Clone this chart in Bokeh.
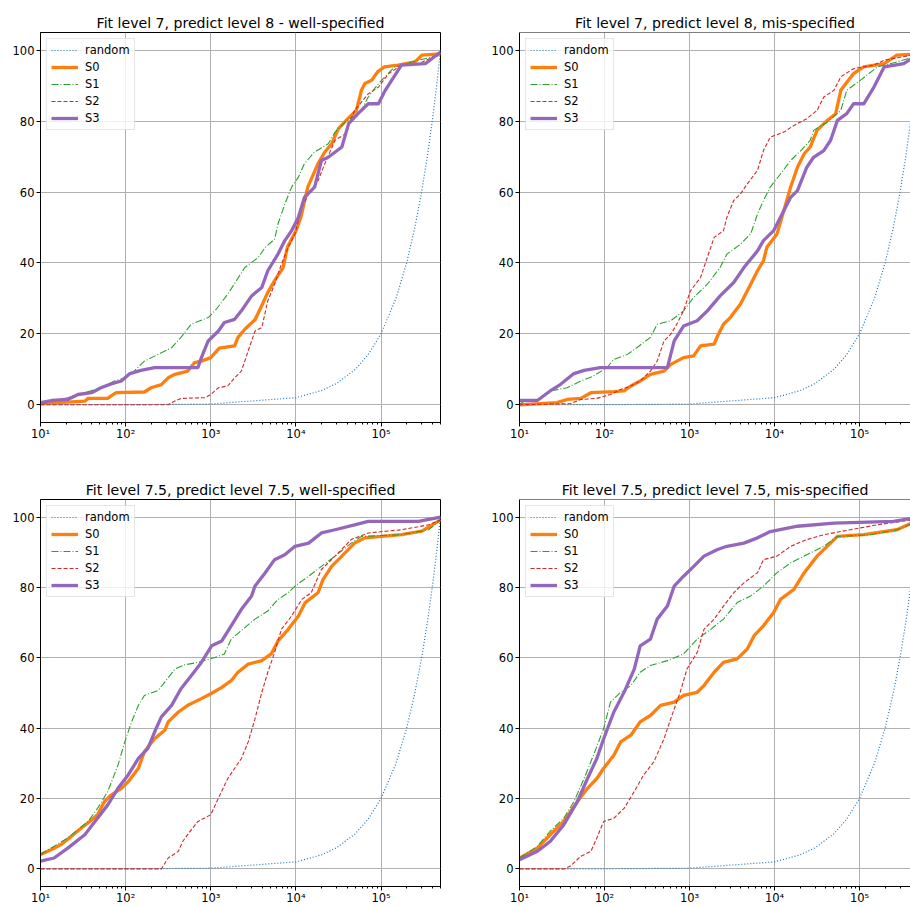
from bokeh.plotting import figure
from bokeh.models import Range1d, FixedTicker, Span, Legend, LegendItem
from bokeh.layouts import column, row
from bokeh.embed import file_html
from bokeh.resources import INLINE

# ---------------- data (x as log10 of the budget, y in percent) ----------------
random_x = [10, 100, 1000, 10000, 20000, 30000, 50000, 70000, 100000, 150000,
            200000, 250000, 300000, 350000, 400000, 450000, 500000]
random_y = [0.002, 0.02, 0.2, 2, 4, 6, 10, 14, 20, 30, 40, 50, 60, 70, 80, 90, 100]

# Fit level 7, predict level 8 - well-specified
tl_s0_lx = [1.0, 1.52, 1.56, 1.79, 1.83, 1.89, 2.22, 2.3, 2.42, 2.5, 2.58, 2.73, 2.81, 2.89, 3.0, 3.1, 3.28, 3.32, 3.4, 3.52, 3.6, 3.67, 3.75, 3.85, 3.9, 4.0, 4.06, 4.14, 4.26, 4.34, 4.42, 4.5, 4.61, 4.71, 4.77, 4.81, 4.89, 4.96, 5.04, 5.2, 5.4, 5.48, 5.7]
tl_s0_y = [0.3, 1.0, 1.8, 1.8, 2.5, 3.4, 3.6, 4.8, 5.7, 7.6, 8.6, 9.5, 11.9, 12.3, 13.3, 16.0, 16.6, 19.0, 21.3, 24.0, 28.0, 31.7, 35.0, 38.7, 44.4, 49.0, 53.0, 61.4, 68.0, 71.3, 73.6, 77.9, 80.7, 83.0, 88.7, 90.6, 91.5, 93.9, 95.3, 95.8, 96.7, 98.6, 99.0]
tl_s1_lx = [1.0, 1.13, 1.32, 1.52, 1.71, 1.87, 1.99, 2.1, 2.22, 2.38, 2.54, 2.65, 2.77, 2.97, 3.05, 3.2, 3.4, 3.56, 3.64, 3.75, 3.79, 3.87, 3.95, 4.03, 4.1, 4.22, 4.38, 4.46, 4.58, 4.77, 4.85, 4.97, 5.16, 5.44, 5.7]
tl_s1_y = [0, 1.0, 2.0, 3.4, 4.8, 6.7, 7.6, 9.5, 12.3, 14.2, 16.1, 19.0, 22.7, 24.6, 26.5, 31.2, 38.7, 41.6, 44.4, 46.7, 51.0, 56.6, 61.4, 64.2, 68.0, 71.3, 73.6, 76.9, 79.7, 83.0, 86.8, 90.6, 95.3, 97.2, 98.6]
tl_s2_lx = [1.0, 2.5, 2.54, 2.65, 2.93, 3.0, 3.09, 3.2, 3.28, 3.36, 3.44, 3.52, 3.6, 3.67, 3.75, 3.83, 3.91, 3.99, 4.07, 4.15, 4.26, 4.34, 4.46, 4.58, 4.69, 4.85, 4.97, 5.09, 5.24, 5.44, 5.7]
tl_s2_y = [0, 0, 0.6, 1.8, 2.0, 2.9, 4.8, 5.3, 7.6, 9.5, 15.2, 20.8, 21.8, 29.3, 34.0, 39.7, 44.4, 48.2, 55.7, 59.5, 63.2, 68.0, 74.6, 76.4, 83.0, 87.7, 89.6, 93.4, 95.8, 96.2, 99.0]
tl_s3_lx = [1.0, 1.13, 1.32, 1.44, 1.6, 1.71, 1.83, 1.95, 2.05, 2.18, 2.34, 2.85, 2.89, 2.97, 3.09, 3.16, 3.28, 3.36, 3.48, 3.6, 3.67, 3.79, 3.87, 3.95, 4.03, 4.1, 4.22, 4.3, 4.38, 4.54, 4.62, 4.73, 4.85, 4.97, 5.05, 5.24, 5.52, 5.7]
tl_s3_y = [0.6, 1.2, 1.5, 2.9, 3.4, 4.8, 5.9, 6.7, 8.8, 9.7, 10.5, 10.5, 13.3, 18.0, 20.8, 23.2, 24.1, 26.5, 30.7, 33.1, 37.8, 42.5, 46.3, 49.1, 52.9, 58.5, 61.4, 68.9, 69.8, 72.7, 79.3, 82.1, 84.9, 84.9, 88.7, 95.8, 96.2, 99.5]

# Fit level 7, predict level 8, mis-specified
tr_s0_lx = [1.0, 1.44, 1.56, 1.72, 1.84, 2.11, 2.23, 2.31, 2.42, 2.54, 2.7, 2.78, 2.93, 3.05, 3.13, 3.29, 3.33, 3.4, 3.48, 3.6, 3.72, 3.8, 3.87, 3.91, 4.03, 4.11, 4.19, 4.27, 4.35, 4.42, 4.5, 4.62, 4.72, 4.78, 4.84, 4.93, 5.05, 5.29, 5.44, 5.7]
tr_s0_y = [0, 0.6, 1.5, 1.8, 3.4, 3.7, 3.9, 5.3, 6.7, 8.6, 9.5, 11.4, 13.3, 13.8, 16.6, 17.1, 19.4, 22.7, 24.6, 28.4, 34.0, 37.8, 40.6, 44.4, 48.2, 54.8, 61.4, 67.0, 70.8, 72.7, 77.4, 80.2, 82.1, 88.7, 90.6, 93.4, 95.3, 96.2, 98.6, 99.0]
tr_s1_lx = [1.0, 1.05, 1.21, 1.36, 1.56, 1.72, 1.87, 2.03, 2.11, 2.27, 2.38, 2.54, 2.62, 2.78, 2.93, 3.05, 3.21, 3.36, 3.44, 3.6, 3.72, 3.8, 3.87, 3.95, 4.07, 4.19, 4.31, 4.42, 4.46, 4.62, 4.78, 4.85, 5.01, 5.21, 5.44, 5.7]
tr_s1_y = [0, 1.0, 1.5, 3.9, 4.8, 6.7, 8.1, 10.5, 12.8, 14.2, 16.1, 19.0, 22.7, 23.7, 26.5, 30.3, 34.0, 38.7, 42.5, 45.3, 48.2, 53.8, 57.6, 61.4, 65.1, 68.9, 71.7, 74.6, 77.4, 79.7, 83.0, 88.7, 91.5, 95.3, 96.7, 98.6]
tr_s2_lx = [1.0, 1.6, 1.72, 1.91, 2.07, 2.19, 2.31, 2.42, 2.54, 2.62, 2.7, 2.78, 2.85, 2.93, 3.01, 3.13, 3.21, 3.29, 3.4, 3.44, 3.52, 3.6, 3.68, 3.8, 3.87, 3.95, 4.11, 4.23, 4.38, 4.5, 4.58, 4.7, 4.78, 4.93, 5.17, 5.29, 5.7]
tr_s2_y = [0, 0.3, 1.5, 1.8, 2.9, 4.3, 5.3, 6.7, 9.5, 12.3, 18.0, 19.9, 22.7, 26.5, 32.1, 35.9, 41.6, 47.2, 49.1, 52.9, 57.6, 59.5, 62.3, 66.1, 71.7, 75.5, 76.9, 78.8, 80.7, 83.0, 86.8, 88.7, 92.5, 94.8, 95.8, 97.2, 99.0]
tr_s3_lx = [1.0, 1.21, 1.36, 1.48, 1.64, 1.76, 1.95, 2.74, 2.82, 2.93, 3.09, 3.21, 3.36, 3.52, 3.64, 3.8, 3.87, 3.99, 4.07, 4.19, 4.27, 4.38, 4.46, 4.58, 4.66, 4.74, 4.85, 4.93, 5.05, 5.17, 5.29, 5.52, 5.7]
tr_s3_y = [1.2, 1.2, 3.9, 5.7, 8.8, 9.7, 10.5, 10.5, 18.0, 22.2, 23.7, 26.5, 30.7, 34.5, 38.7, 43.4, 46.3, 49.1, 52.9, 58.5, 60.4, 67.0, 69.8, 71.7, 74.6, 80.2, 82.1, 84.9, 84.9, 89.6, 95.3, 96.2, 99.0]

# Fit level 7.5, predict level 7.5, well-specified
bl_s0_lx = [1.0, 1.13, 1.24, 1.36, 1.48, 1.6, 1.67, 1.75, 1.83, 1.95, 2.03, 2.15, 2.22, 2.34, 2.46, 2.5, 2.62, 2.73, 2.89, 3.0, 3.13, 3.24, 3.32, 3.44, 3.6, 3.71, 3.79, 3.91, 4.03, 4.11, 4.26, 4.32, 4.42, 4.54, 4.69, 4.81, 5.24, 5.48, 5.7]
bl_s0_y = [4.1, 5.5, 6.9, 9.2, 11.6, 13.9, 15.4, 19.1, 21.0, 22.9, 24.8, 28.6, 33.3, 37.0, 39.4, 41.8, 44.6, 46.5, 48.4, 49.8, 51.6, 53.5, 55.9, 58.2, 59.2, 61.1, 64.8, 68.1, 71.9, 75.7, 78.5, 82.3, 86.0, 88.9, 92.6, 94.1, 95.0, 96.0, 99.2]
bl_s1_lx = [1.0, 1.32, 1.56, 1.67, 1.79, 1.91, 1.99, 2.07, 2.15, 2.22, 2.38, 2.46, 2.58, 2.69, 2.85, 3.05, 3.16, 3.24, 3.4, 3.52, 3.67, 3.79, 3.91, 3.99, 4.15, 4.3, 4.46, 4.65, 4.77, 5.24, 5.56, 5.7]
bl_s1_y = [4.1, 8.8, 13.5, 17.2, 22.0, 29.5, 36.1, 41.8, 46.5, 49.3, 50.7, 53.1, 56.8, 58.0, 58.7, 60.1, 61.1, 65.3, 68.6, 71.0, 73.3, 76.6, 78.5, 80.4, 83.2, 86.0, 88.9, 92.6, 94.5, 95.0, 96.4, 99.2]
bl_s2_lx = [1.0, 2.42, 2.5, 2.62, 2.67, 2.77, 2.85, 3.0, 3.09, 3.2, 3.36, 3.44, 3.52, 3.6, 3.67, 3.75, 3.83, 3.95, 4.07, 4.18, 4.3, 4.46, 4.65, 4.85, 5.24, 5.56, 5.7]
bl_s2_y = [0, 0, 3.1, 5.0, 7.8, 11.1, 13.5, 15.4, 20.1, 25.7, 31.4, 36.1, 42.7, 50.2, 55.9, 61.5, 68.1, 71.9, 76.6, 78.5, 85.1, 88.9, 93.6, 95.5, 96.4, 97.8, 99.2]
bl_s3_lx = [1.0, 1.16, 1.32, 1.52, 1.64, 1.79, 1.91, 2.03, 2.15, 2.26, 2.34, 2.42, 2.54, 2.65, 2.77, 2.89, 3.01, 3.13, 3.24, 3.36, 3.48, 3.52, 3.64, 3.75, 3.87, 3.99, 4.15, 4.3, 4.46, 4.69, 4.85, 5.44, 5.7]
bl_s3_y = [2.2, 3.1, 5.9, 9.7, 13.5, 18.2, 22.9, 26.7, 31.4, 34.2, 38.9, 43.2, 46.5, 51.2, 54.9, 58.7, 63.4, 64.8, 69.1, 73.8, 77.6, 80.4, 84.2, 87.9, 89.3, 91.7, 92.6, 95.5, 96.4, 97.8, 98.8, 98.8, 100.0]

# Fit level 7.5, predict level 7.5, mis-specified
br_s0_lx = [1.0, 1.21, 1.36, 1.52, 1.68, 1.8, 1.91, 1.99, 2.11, 2.19, 2.31, 2.42, 2.54, 2.66, 2.82, 2.93, 3.09, 3.17, 3.29, 3.4, 3.56, 3.68, 3.76, 3.87, 3.99, 4.07, 4.23, 4.35, 4.5, 4.66, 4.74, 5.05, 5.44, 5.7]
br_s0_y = [3.1, 5.9, 9.7, 13.5, 19.1, 22.9, 25.7, 28.6, 32.3, 36.1, 38.0, 41.8, 43.6, 46.5, 47.4, 49.3, 50.2, 52.1, 55.9, 58.7, 59.7, 62.5, 66.3, 69.1, 72.9, 76.6, 79.5, 84.2, 88.9, 92.6, 94.5, 95.0, 96.4, 99.2]
br_s1_lx = [1.0, 1.21, 1.36, 1.52, 1.64, 1.76, 1.87, 1.99, 2.07, 2.19, 2.31, 2.42, 2.54, 2.74, 2.93, 3.09, 3.25, 3.4, 3.56, 3.72, 3.87, 4.03, 4.19, 4.38, 4.58, 4.74, 5.13, 5.44, 5.7]
br_s1_y = [3.1, 6.4, 10.7, 14.4, 19.1, 25.7, 32.3, 39.9, 47.4, 50.2, 52.1, 55.9, 57.8, 59.2, 61.1, 65.3, 68.1, 71.0, 75.7, 77.6, 80.4, 84.2, 87.0, 89.3, 91.7, 94.5, 95.0, 96.4, 99.0]
br_s2_lx = [1.0, 1.52, 1.6, 1.72, 1.84, 1.91, 1.99, 2.11, 2.23, 2.35, 2.46, 2.58, 2.7, 2.78, 2.89, 2.97, 3.09, 3.17, 3.29, 3.4, 3.52, 3.64, 3.8, 3.87, 4.03, 4.19, 4.38, 4.58, 4.89, 5.21, 5.7]
br_s2_y = [0, 0, 0.8, 3.6, 5.0, 8.8, 13.5, 14.4, 17.2, 22.0, 26.7, 30.4, 37.0, 42.7, 50.2, 56.8, 61.5, 68.1, 71.0, 74.7, 78.5, 81.3, 84.2, 87.9, 88.9, 91.7, 93.6, 95.0, 96.4, 97.8, 99.5]
br_s3_lx = [1.0, 1.21, 1.36, 1.52, 1.68, 1.8, 1.91, 1.99, 2.11, 2.23, 2.35, 2.42, 2.54, 2.62, 2.74, 2.82, 2.93, 3.05, 3.17, 3.33, 3.44, 3.64, 3.8, 3.95, 4.27, 4.7, 5.4, 5.7]
br_s3_y = [2.6, 5.0, 7.8, 12.5, 19.1, 25.7, 31.4, 37.0, 44.6, 50.2, 56.8, 63.4, 65.3, 71.0, 74.7, 80.4, 83.2, 86.0, 88.9, 90.8, 91.7, 92.6, 94.1, 95.9, 97.4, 98.3, 98.8, 100.0]

series_names = ["S0", "S1", "S2", "S3"]
titles = ["Fit level 7, predict level 8 - well-specified",
          "Fit level 7, predict level 8, mis-specified",
          "Fit level 7.5, predict level 7.5, well-specified",
          "Fit level 7.5, predict level 7.5, mis-specified"]
x_major = [10, 100, 1000, 10000, 100000]
x_labels = ["10\u00b9", "10\u00b2", "10\u00b3", "10\u2074", "10\u2075"]
x_minor = [m * d for d in [10, 100, 1000, 10000, 100000] for m in range(2, 10)]
y_major = [0, 20, 40, 60, 80, 100]

# ---------------- styling ----------------
FONT = "DejaVu Sans"
STYLES = {
    "random": dict(line_color="#1f77b4", line_width=1.2, line_dash="1 2"),
    "S0": dict(line_color="#ff7f0e", line_width=3.3, line_dash="solid"),
    "S1": dict(line_color="#2ca02c", line_width=1.1, line_dash="7 2 1 2"),
    "S2": dict(line_color="#d62728", line_width=1.1, line_dash="4 2"),
    "S3": dict(line_color="#9467bd", line_width=3.3, line_dash="solid"),
}


def build(title, series, width, height, x_end, mb, right_side):
    p = figure(width=width, height=height, x_axis_type="log",
               x_range=Range1d(10, x_end), y_range=Range1d(-5, 105),
               output_backend="svg", toolbar_location=None,
               min_border_left=mb[0], min_border_right=mb[1],
               min_border_top=mb[2], min_border_bottom=mb[3],
               background_fill_color="white", border_fill_color="white")
    p.title.text = title
    p.title.align = "center"
    p.title.text_font = FONT
    p.title.text_font_style = "normal"
    p.title.text_font_size = "14.1px"
    p.title.text_color = "black"
    p.title.standoff = 3

    if right_side:
        p.outline_line_color = None
        p.add_layout(Span(location=105, dimension="width", line_color="black", line_width=1))
    else:
        p.outline_line_color = "black"
        p.outline_line_width = 1

    p.xaxis.ticker = FixedTicker(ticks=x_major, minor_ticks=x_minor)
    p.xaxis.major_label_overrides = {t: l for t, l in zip(x_major, x_labels)}
    p.yaxis.ticker = FixedTicker(ticks=y_major, minor_ticks=[])
    for ax in (p.xaxis, p.yaxis):
        ax.axis_line_color = "black"
        ax.axis_line_width = 1
        ax.major_tick_line_color = "black"
        ax.major_tick_out = 4
        ax.major_tick_in = 0
        ax.minor_tick_line_color = "black"
        ax.minor_tick_out = 2
        ax.minor_tick_in = 0
        ax.major_label_text_font = FONT
        ax.major_label_text_font_size = "11.5px"
        ax.major_label_text_color = "black"
    p.xaxis.major_label_standoff = 0
    p.yaxis.major_label_standoff = 2

    p.grid.grid_line_color = "#b0b0b0"
    p.grid.grid_line_width = 1

    items = []
    r = p.line(random_x, random_y, line_join="round", **STYLES["random"])
    items.append(LegendItem(label="random", renderers=[r]))
    for name, (lx, ys) in zip(series_names, series):
        xs = [10 ** v for v in lx]
        r = p.line(xs, ys, line_join="round", **STYLES[name])
        items.append(LegendItem(label=name, renderers=[r]))

    leg = Legend(items=items, location="top_left")
    leg.glyph_width = 27
    leg.glyph_height = 14
    leg.label_height = 14
    leg.label_width = 20
    leg.spacing = 3
    leg.padding = 4
    leg.margin = 6
    leg.label_standoff = 7
    leg.label_text_font = FONT
    leg.label_text_font_size = "11.5px"
    leg.label_text_color = "black"
    leg.border_line_color = "#cccccc"
    leg.border_line_width = 1
    leg.background_fill_color = "white"
    leg.background_fill_alpha = 0.8
    p.add_layout(leg)
    return p


RIGHT_X_END = 10 ** 5.6
LEFT_X_END = 500000

p1 = build(titles[0], [(tl_s0_lx, tl_s0_y), (tl_s1_lx, tl_s1_y), (tl_s2_lx, tl_s2_y), (tl_s3_lx, tl_s3_y)],
           479, 467, LEFT_X_END, (40, 39, 32, 45), False)
p2 = build(titles[1], [(tr_s0_lx, tr_s0_y), (tr_s1_lx, tr_s1_y), (tr_s2_lx, tr_s2_y), (tr_s3_lx, tr_s3_y)],
           431, 467, RIGHT_X_END, (40, 0, 32, 45), True)
p3 = build(titles[2], [(bl_s0_lx, bl_s0_y), (bl_s1_lx, bl_s1_y), (bl_s2_lx, bl_s2_y), (bl_s3_lx, bl_s3_y)],
           479, 440, LEFT_X_END, (40, 39, 32, 18), False)
p4 = build(titles[3], [(br_s0_lx, br_s0_y), (br_s1_lx, br_s1_y), (br_s2_lx, br_s2_y), (br_s3_lx, br_s3_y)],
           431, 440, RIGHT_X_END, (40, 0, 32, 18), True)

layout = column(row(p1, p2), row(p3, p4))
open("out.html", "w").write(file_html(layout, INLINE))
